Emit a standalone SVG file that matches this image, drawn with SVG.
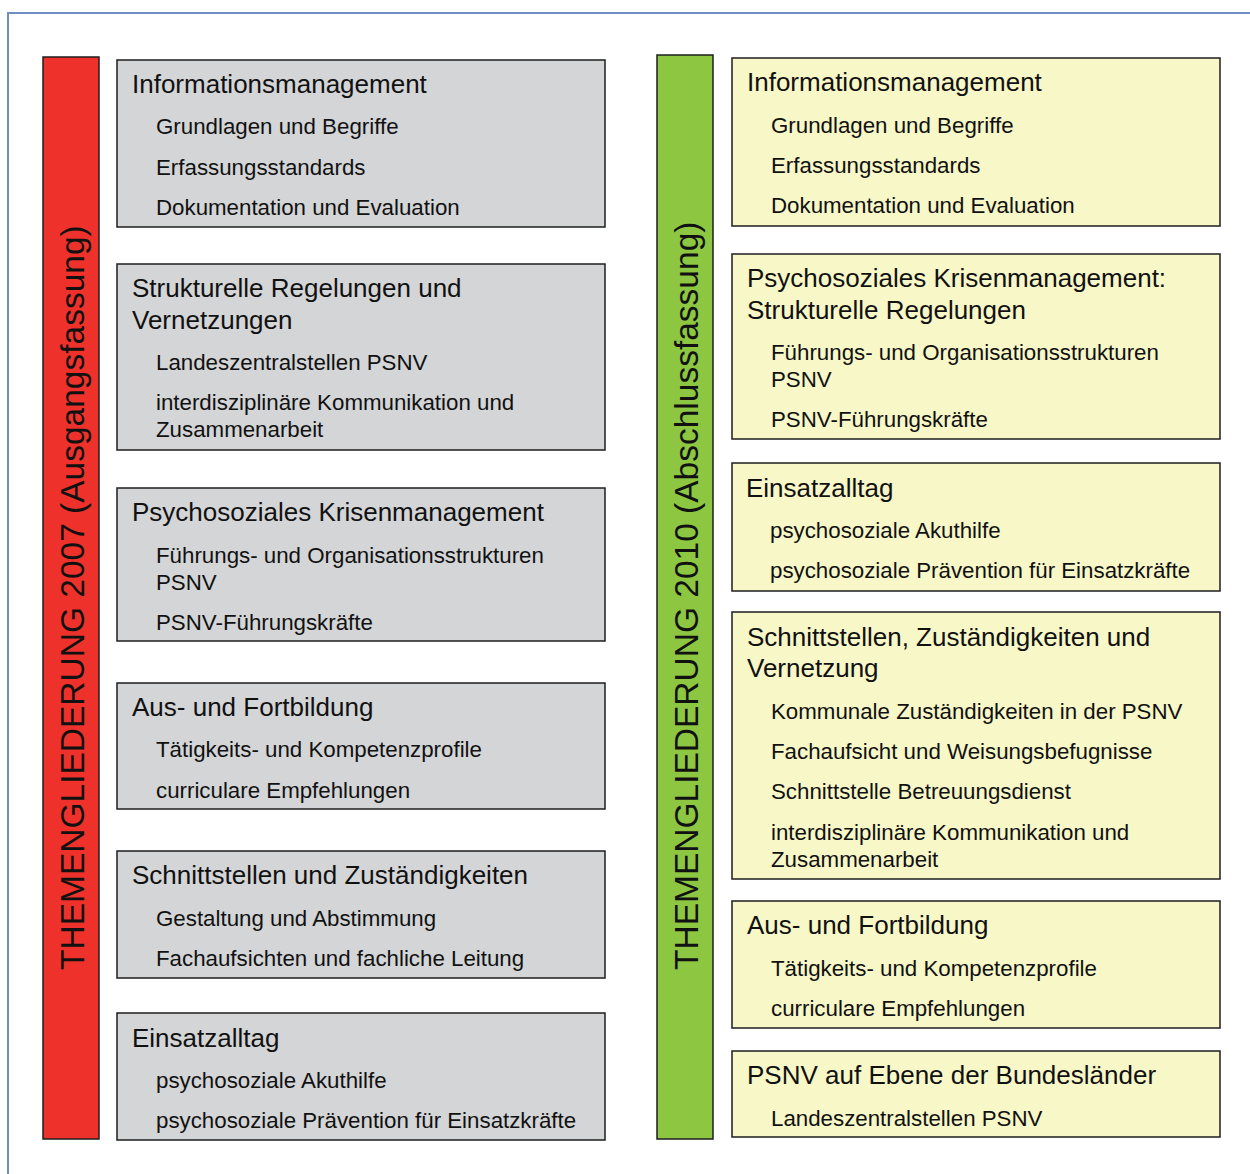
<svg xmlns="http://www.w3.org/2000/svg" width="1250" height="1174" viewBox="0 0 1250 1174">
<style>
text{font-family:"Liberation Sans",Arial,sans-serif;fill:#111}
.t{font-size:26px}
.i{font-size:22.3px}
.v{font-size:33.5px}
.g{fill:#d4d5d7;stroke:#1e1e1e;stroke-width:1.5}
.y{fill:#f8f7c8;stroke:#1e1e1e;stroke-width:1.5}
.bar{stroke:#1e1e1e;stroke-width:1.5}
</style>
<rect x="8" y="13" width="1262" height="1200" fill="none" stroke="#6f8fc4" stroke-width="2"/>

<g id="bar2007">
<rect class="bar" x="43" y="57" width="56" height="1082" fill="#ee322b"/>
<text class="v" transform="translate(83.5,970) rotate(-90)">THEMENGLIEDERUNG 2007 (Ausgangsfassung)</text>
</g>
<g id="bar2010">
<rect class="bar" x="657" y="55" width="56" height="1084" fill="#8dc641"/>
<text class="v" transform="translate(697.5,970) rotate(-90)">THEMENGLIEDERUNG 2010 (Abschlussfassung)</text>
</g>

<g id="l1">
<rect class="g" x="117" y="60" width="488" height="167"/>
<text class="t" x="132" y="93">Informationsmanagement</text>
<text class="i" x="156" y="134">Grundlagen und Begriffe</text>
<text class="i" x="156" y="175">Erfassungsstandards</text>
<text class="i" x="156" y="215">Dokumentation und Evaluation</text>
</g>
<g id="l2">
<rect class="g" x="117" y="264" width="488" height="186"/>
<text class="t" x="132" y="297">Strukturelle Regelungen und</text>
<text class="t" x="132" y="329">Vernetzungen</text>
<text class="i" x="156" y="370">Landeszentralstellen PSNV</text>
<text class="i" x="156" y="410">interdisziplinäre Kommunikation und</text>
<text class="i" x="156" y="437">Zusammenarbeit</text>
</g>
<g id="l3">
<rect class="g" x="117" y="488" width="488" height="153"/>
<text class="t" x="132" y="521">Psychosoziales Krisenmanagement</text>
<text class="i" x="156" y="563">Führungs- und Organisationsstrukturen</text>
<text class="i" x="156" y="590">PSNV</text>
<text class="i" x="156" y="630">PSNV-Führungskräfte</text>
</g>
<g id="l4">
<rect class="g" x="117" y="683" width="488" height="126"/>
<text class="t" x="132" y="716">Aus- und Fortbildung</text>
<text class="i" x="156" y="757">Tätigkeits- und Kompetenzprofile</text>
<text class="i" x="156" y="798">curriculare Empfehlungen</text>
</g>
<g id="l5">
<rect class="g" x="117" y="851" width="488" height="127"/>
<text class="t" x="132" y="884">Schnittstellen und Zuständigkeiten</text>
<text class="i" x="156" y="926">Gestaltung und Abstimmung</text>
<text class="i" x="156" y="966">Fachaufsichten und fachliche Leitung</text>
</g>
<g id="l6">
<rect class="g" x="117" y="1013" width="488" height="127"/>
<text class="t" x="132" y="1047">Einsatzalltag</text>
<text class="i" x="156" y="1088">psychosoziale Akuthilfe</text>
<text class="i" x="156" y="1128">psychosoziale Prävention für Einsatzkräfte</text>
</g>

<g id="r1">
<rect class="y" x="732" y="58" width="488" height="168"/>
<text class="t" x="747" y="91">Informationsmanagement</text>
<text class="i" x="771" y="133">Grundlagen und Begriffe</text>
<text class="i" x="771" y="173">Erfassungsstandards</text>
<text class="i" x="771" y="213">Dokumentation und Evaluation</text>
</g>
<g id="r2">
<rect class="y" x="732" y="254" width="488" height="185"/>
<text class="t" x="747" y="287">Psychosoziales Krisenmanagement:</text>
<text class="t" x="747" y="319">Strukturelle Regelungen</text>
<text class="i" x="771" y="360">Führungs- und Organisationsstrukturen</text>
<text class="i" x="771" y="387">PSNV</text>
<text class="i" x="771" y="427">PSNV-Führungskräfte</text>
</g>
<g id="r3">
<rect class="y" x="732" y="463" width="488" height="128"/>
<text class="t" x="746" y="497">Einsatzalltag</text>
<text class="i" x="770" y="538">psychosoziale Akuthilfe</text>
<text class="i" x="770" y="578">psychosoziale Prävention für Einsatzkräfte</text>
</g>
<g id="r4">
<rect class="y" x="732" y="612" width="488" height="267"/>
<text class="t" x="747" y="646">Schnittstellen, Zuständigkeiten und</text>
<text class="t" x="747" y="677">Vernetzung</text>
<text class="i" x="771" y="719">Kommunale Zuständigkeiten in der PSNV</text>
<text class="i" x="771" y="759">Fachaufsicht und Weisungsbefugnisse</text>
<text class="i" x="771" y="799">Schnittstelle Betreuungsdienst</text>
<text class="i" x="771" y="840">interdisziplinäre Kommunikation und</text>
<text class="i" x="771" y="867">Zusammenarbeit</text>
</g>
<g id="r5">
<rect class="y" x="732" y="901" width="488" height="127"/>
<text class="t" x="747" y="934">Aus- und Fortbildung</text>
<text class="i" x="771" y="976">Tätigkeits- und Kompetenzprofile</text>
<text class="i" x="771" y="1016">curriculare Empfehlungen</text>
</g>
<g id="r6">
<rect class="y" x="732" y="1051" width="488" height="86"/>
<text class="t" x="747" y="1084">PSNV auf Ebene der Bundesländer</text>
<text class="i" x="771" y="1126">Landeszentralstellen PSNV</text>
</g>
</svg>
